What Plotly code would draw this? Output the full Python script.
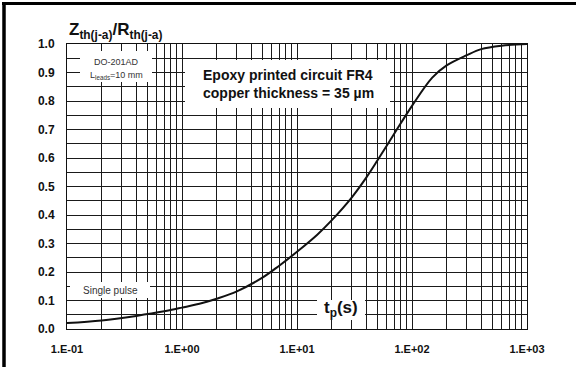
import plotly.graph_objects as go

# ---- data ----
tp_s = [0.1, 0.2, 0.4, 0.7, 1, 1.5, 2, 3, 5, 7, 10, 15, 20, 30, 40, 50, 70,
        100, 150, 200, 300, 400, 600, 1000]
zth_ratio = [0.021, 0.030, 0.046, 0.062, 0.075, 0.091, 0.106, 0.132, 0.180,
             0.222, 0.271, 0.331, 0.381, 0.462, 0.531, 0.591, 0.685,
             0.783, 0.882, 0.925, 0.961, 0.982, 0.994, 1.0]

x_tick_vals = [0.1, 1, 10, 100, 1000]
x_tick_text = ["1.E-01", "1.E+00", "1.E+01", "1.E+02", "1.E+03"]
x_minor_vals = [k * 10.0 ** e for e in range(-1, 3) for k in range(2, 10)]

FONT = "Liberation Sans, Arial, sans-serif"
GRID = "#1a1a1a"

fig = go.Figure()
fig.add_trace(go.Scatter(x=tp_s, y=zth_ratio, mode="lines",
                         line=dict(color="#111", width=2, shape="spline", smoothing=1.0),
                         showlegend=False, hoverinfo="skip"))

fig.update_layout(
    width=576, height=367,
    margin=dict(l=67, r=49, t=44, b=38),
    paper_bgcolor="white", plot_bgcolor="white",
    font=dict(family=FONT, color="#111", size=12),
    xaxis=dict(type="log", range=[-1, 3], tickvals=x_tick_vals, ticktext=x_tick_text,
               showgrid=True, gridcolor=GRID, gridwidth=1,
               minor=dict(tickvals=x_minor_vals, showgrid=True, gridcolor=GRID, gridwidth=1),
               showline=True, mirror=True, linecolor="#111", linewidth=1,
               ticks="", ticklabelstandoff=10, zeroline=False,
               tickfont=dict(size=11, weight="bold", family=FONT, color="#111")),
    yaxis=dict(range=[0, 1], dtick=0.1, tickformat=".1f",
               showgrid=True, gridcolor=GRID, gridwidth=1,
               minor=dict(dtick=0.05, showgrid=True, gridcolor=GRID, gridwidth=1),
               showline=True, mirror=True, linecolor="#111", linewidth=1,
               ticks="", ticklabelstandoff=9, zeroline=False,
               tickfont=dict(size=12, weight="bold", family=FONT, color="#111")),
)

def px_x(px):
    return (px - 67) / 460.0

def px_y(py):
    return (329 - py) / 285.0

shapes = []
# outer frame (left + top)
shapes.append(dict(type="line", xref="paper", yref="paper", x0=px_x(4), x1=px_x(4),
                   y0=px_y(2), y1=px_y(372), line=dict(color="black", width=3.5)))
shapes.append(dict(type="line", xref="paper", yref="paper", x0=px_x(2), x1=px_x(580),
                   y0=px_y(3.5), y1=px_y(3.5), line=dict(color="black", width=3)))
# white label boxes
for (x0, x1, y0, y1) in [(80, 152, 51, 82), (185, 390, 60, 108),
                         (70, 150, 282, 298), (317, 365, 300, 320)]:
    shapes.append(dict(type="rect", xref="paper", yref="paper", layer="above",
                       x0=px_x(x0), x1=px_x(x1), y0=px_y(y1), y1=px_y(y0),
                       fillcolor="white", line=dict(width=0)))
fig.update_layout(shapes=shapes)

ann = []
def add(text, x, y, size, bold=False, color="#111", xanchor="center"):
    ann.append(dict(text=text, xref="paper", yref="paper", x=px_x(x), y=px_y(y),
                    xanchor=xanchor, yanchor="middle", showarrow=False,
                    font=dict(size=size, family=FONT, color=color,
                              weight="bold" if bold else "normal")))

add("Z<sub>th(j-a)</sub>/R<sub>th(j-a)</sub>", 67, 31, 17, bold=True, xanchor="left")
add("DO-201AD", 116, 62.5, 9, color="#333")
add("L<sub>leads</sub>=10 mm", 116, 75, 9, color="#333")
add("Epoxy printed circuit FR4", 288, 75, 14, bold=True)
add("copper thickness = 35 µm", 288, 93, 14, bold=True)
add("Single pulse", 110, 290.5, 10, color="#333")
add("t<sub>p</sub>(s)", 341, 309, 17, bold=True)
fig.update_layout(annotations=ann)

fig.write_html("out.html")
